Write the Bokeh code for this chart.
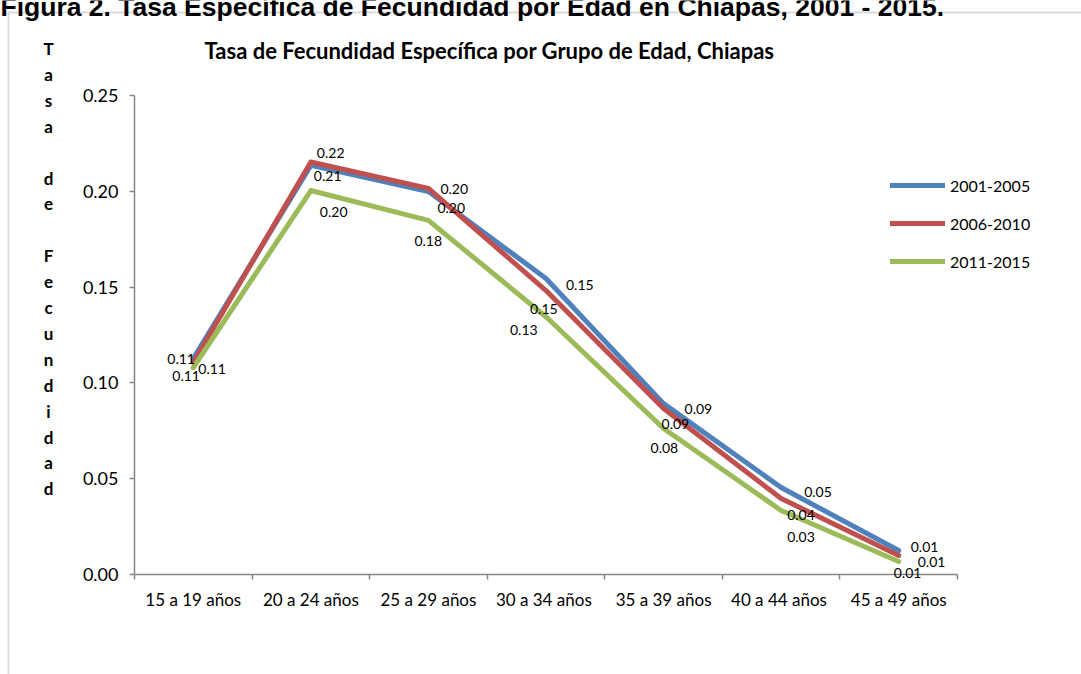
from bokeh.plotting import figure
from bokeh.models import (ColumnDataSource, Range1d, FixedTicker, NumeralTickFormatter,
                          Legend, LegendItem, LabelSet, Label, BoxAnnotation)
from bokeh.core.properties import value
from bokeh.embed import file_html
from bokeh.resources import INLINE

# ---------------- data ----------------
categories = ["15 a 19 años", "20 a 24 años", "25 a 29 años", "30 a 34  años",
              "35 a 39 años", "40 a 44  años", "45 a 49 años"]
series_names = ["2001-2005", "2006-2010", "2011-2015"]
tasa_2001_2005 = [0.1127, 0.2135, 0.1999, 0.1545, 0.0892, 0.0454, 0.0125]
tasa_2006_2010 = [0.1106, 0.2153, 0.2015, 0.1482, 0.0866, 0.0397, 0.0099]
tasa_2011_2015 = [0.1080, 0.2004, 0.1848, 0.1345, 0.0762, 0.0334, 0.0068]
y_ticks = [0.0, 0.05, 0.10, 0.15, 0.20, 0.25]

caption = "Figura 2. Tasa Específica de Fecundidad por Edad en Chiapas, 2001 - 2015."
chart_title = "Tasa de Fecundidad Específica por Grupo de Edad, Chiapas"
y_title_letters = ["T", "a", "s", "a", "", "d", "e", "", "F", "e", "c", "u", "n",
                   "d", "i", "d", "a", "d"]

# ---------------- styling ----------------
W, H = 1081, 674
FL, FR, FT, FB = 134, 957, 95, 574          # plot-area edges (px)
colors = ["#4F81BD", "#C0504D", "#9BBB59"]
FONT = "Lato"
AXIS_GRAY = "#868686"

# label offsets (px): dx to left edge of label, dy downward of label center
label_dx = [[-26, 3, 9, 20, 21, 23, 12],
            [5, 6, 12, -16, -2, 6, 19],
            [-21, 9, -14, -36, -13, 6, -5]]
label_dy = [[0, 11, 17, 7, 5, 4, -4],
            [6, -9, 1, 18, 15, 17, 6],
            [8, 21, 21, 13, 19, 26, 12]]

n = len(categories)
xs = [i + 0.5 for i in range(n)]
ymax = y_ticks[-1]
kx = (FR - FL) / n
ky = (FB - FT) / ymax

def px2x(px):
    return (px - FL) / kx

def py2y(py):
    return (FB - py) / ky

p = figure(width=W, height=H, output_backend="svg", toolbar_location=None,
           x_range=Range1d(px2x(0), px2x(W)), y_range=Range1d(py2y(H), py2y(0)),
           min_border=0)
p.outline_line_color = None
p.grid.visible = False
p.background_fill_color = "white"
p.border_fill_color = "white"

# axes
xa = p.xaxis[0]
xa.fixed_location = 0
xa.bounds = (0, n)
xa.ticker = FixedTicker(ticks=xs, minor_ticks=list(range(n + 1)))
xa.major_label_overrides = {x: c for x, c in zip(xs, categories)}
xa.major_tick_out = 0
xa.major_tick_in = 0
xa.minor_tick_out = 5
xa.minor_tick_in = 0
xa.minor_tick_line_color = AXIS_GRAY
xa.minor_tick_line_width = 1.5
xa.axis_line_color = AXIS_GRAY
xa.axis_line_width = 1.5
xa.major_label_standoff = 9
xa.major_label_text_font = FONT
xa.major_label_text_font_size = "17px"
xa.major_label_text_color = "black"

ya = p.yaxis[0]
ya.fixed_location = 0
ya.bounds = (0, ymax)
ya.ticker = FixedTicker(ticks=y_ticks)
ya.formatter = NumeralTickFormatter(format="0.00")
ya.major_tick_out = 5
ya.major_tick_in = 0
ya.minor_tick_line_color = None
ya.major_tick_line_color = AXIS_GRAY
ya.major_tick_line_width = 1.5
ya.axis_line_color = AXIS_GRAY
ya.axis_line_width = 1.5
ya.major_label_standoff = 11
ya.major_label_text_font = FONT
ya.major_label_text_font_size = "18px"
ya.major_label_text_color = "black"

# outer border
p.add_layout(BoxAnnotation(left=px2x(8), right=px2x(1300), top=py2y(12), bottom=py2y(900),
                           fill_color=None, fill_alpha=0, line_color=AXIS_GRAY,
                           line_width=2, level="underlay"))

# lines
all_series = [tasa_2001_2005, tasa_2006_2010, tasa_2011_2015]
items = []
for k, (name, vals) in enumerate(zip(series_names, all_series)):
    src = ColumnDataSource(dict(x=xs, y=vals, t=[f"{v:.2f}" for v in vals],
                                dx=label_dx[k], dy=[-d for d in label_dy[k]]))
    r = p.line("x", "y", source=src, line_color=colors[k], line_width=5,
               line_join="round", line_cap="round")
    items.append(LegendItem(label=name, renderers=[r]))
    p.add_layout(LabelSet(x="x", y="y", text="t", source=src, x_offset="dx", y_offset="dy",
                          text_font=value(FONT), text_font_size="14px", text_color="black",
                          text_align="left", text_baseline="middle"))

legend_top, legend_h = 175, 3 * 20 + 2 * 18
legend = Legend(items=items, location=(890, H - legend_top - legend_h), orientation="vertical",
                glyph_width=55, glyph_height=20, label_height=20, spacing=18,
                label_standoff=5, padding=0, margin=0,
                border_line_color=None, background_fill_alpha=0,
                label_text_font=FONT, label_text_font_size="16px", label_text_color="black")
p.add_layout(legend, "center")

# titles
p.add_layout(Label(x=px2x(489), y=py2y(50), text=chart_title, text_font=FONT,
                   text_font_style="bold", text_font_size="22px", text_color="black",
                   text_align="center", text_baseline="middle"))
p.add_layout(Label(x=px2x(0), y=py2y(6), text=caption, text_font="Liberation Sans",
                   text_font_style="bold", text_font_size="26.5px", text_color="black",
                   text_align="left", text_baseline="alphabetic"))
for i, ch in enumerate(y_title_letters):
    if ch:
        p.add_layout(Label(x=px2x(48), y=py2y(48 + 25.9 * i), text=ch, text_font=FONT,
                           text_font_style="bold", text_font_size="17px", text_color="black",
                           text_align="center", text_baseline="middle"))

open("out.html", "w").write(file_html(p, INLINE))
